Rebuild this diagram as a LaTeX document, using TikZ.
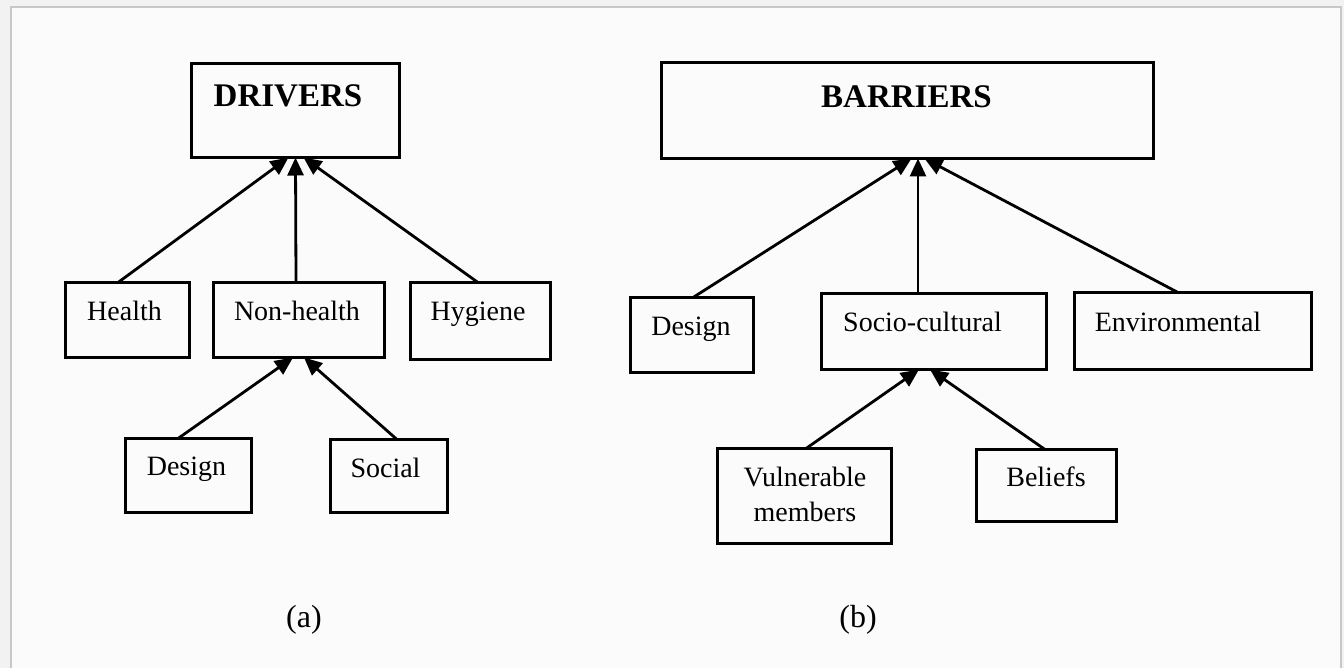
\documentclass[tikz,border=0pt]{standalone}
\usepackage{fontspec}
\setmainfont{Liberation Serif}
\usetikzlibrary{arrows.meta}
\definecolor{outerbg}{HTML}{F2F2F2}
\definecolor{innerbg}{HTML}{FBFBFB}
\definecolor{framegray}{HTML}{C8C8C8}
\tikzset{
  box/.style={draw=black, line width=3pt, inner sep=0pt, outer sep=0pt, rectangle},
  lbl/.style={anchor=base, inner sep=0pt, font=\fontsize{28}{35}\selectfont},
  hdr/.style={anchor=base, inner sep=0pt, font=\fontsize{33}{38}\selectfont\bfseries},
  captxt/.style={anchor=base, inner sep=0pt, font=\fontsize{32}{38}\selectfont},
  arr/.style={line width=2.8pt, -{Triangle[length=18pt,width=16pt]}}
}
\begin{document}
\begin{tikzpicture}[x=1pt,y=-1pt]
\useasboundingbox (0,0) rectangle (1344,668);
\fill[outerbg] (0,0) rectangle (1344,668);
\fill[innerbg] (11,7) rectangle (1341,690);
\draw[framegray, line width=2pt] (11,690) -- (11,7) -- (1341,7) -- (1341,690);

% (a) DRIVERS
\node[box, minimum width=208pt, minimum height=94pt] (drv) at (295.5,110.5) {};
\node[hdr] (drvT) at (288,107) {DRIVERS};
\node[box, minimum width=124pt, minimum height=75pt] (health) at (127.5,320) {};
\node[lbl] (healthT) at (124.5,320) {Health};
\node[box, minimum width=171pt, minimum height=75pt] (nonh) at (299,320) {};
\node[lbl] (nonhT) at (297,320) {Non-health};
\node[box, minimum width=140pt, minimum height=77pt] (hyg) at (480.5,321) {};
\node[lbl] (hygT) at (478,320) {Hygiene};
\node[box, minimum width=126pt, minimum height=74pt] (desA) at (188.5,475.5) {};
\node[lbl] (desAT) at (186.5,475) {Design};
\node[box, minimum width=117pt, minimum height=73pt] (soc) at (389,476) {};
\node[lbl] (socT) at (385.5,477) {Social};
\node[captxt] (capA) at (304,627) {(a)};

\draw[arr] ([xshift=-9.5pt]health.north) -- ([xshift=-7pt]drv.south);
\draw[arr] ([xshift=-3pt]nonh.north) -- ([xshift=0pt]drv.south);
\draw[arr] ([xshift=-2.5pt]hyg.north) -- ([xshift=8pt]drv.south);
\draw[arr] ([xshift=-10.5pt]desA.north) -- ([xshift=-6pt]nonh.south);
\draw[arr] ([xshift=8pt]soc.north) -- ([xshift=5pt]nonh.south);

% (b) BARRIERS
\node[box, minimum width=492pt, minimum height=96pt] (bar) at (907.5,110.5) {};
\node[hdr] (barT) at (906.5,108) {BARRIERS};
\node[box, minimum width=123pt, minimum height=75pt] (desB) at (692,335) {};
\node[lbl] (desBT) at (691,335) {Design};
\node[box, minimum width=225pt, minimum height=76pt] (scu) at (934,331.5) {};
\node[lbl] (scuT) at (922.5,331) {Socio-cultural};
\node[box, minimum width=237pt, minimum height=77pt] (env) at (1193,331) {};
\node[lbl] (envT) at (1178,331) {Environmental};
\node[box, minimum width=174pt, minimum height=95pt] (vul) at (804.5,496) {};
\node[lbl, anchor=center, align=center] (vulT) at (805,494) {Vulnerable\\members};
\node[box, minimum width=140pt, minimum height=72pt] (bel) at (1046.5,485.5) {};
\node[lbl] (belT) at (1046,486) {Beliefs};
\node[captxt] (capB) at (858,627) {(b)};

\draw[arr] ([xshift=1pt]desB.north) -- ([xshift=4pt]bar.south);
\draw[arr] ([xshift=-16pt]scu.north) -- ([xshift=10.5pt]bar.south);
\draw[arr] ([xshift=-15pt]env.north) -- ([xshift=17pt]bar.south);
\draw[arr] ([xshift=1.5pt]vul.north) -- ([xshift=-15pt]scu.south);
\draw[arr] ([xshift=-1.5pt]bel.north) -- ([xshift=-4pt]scu.south);
\end{tikzpicture}
\end{document}
